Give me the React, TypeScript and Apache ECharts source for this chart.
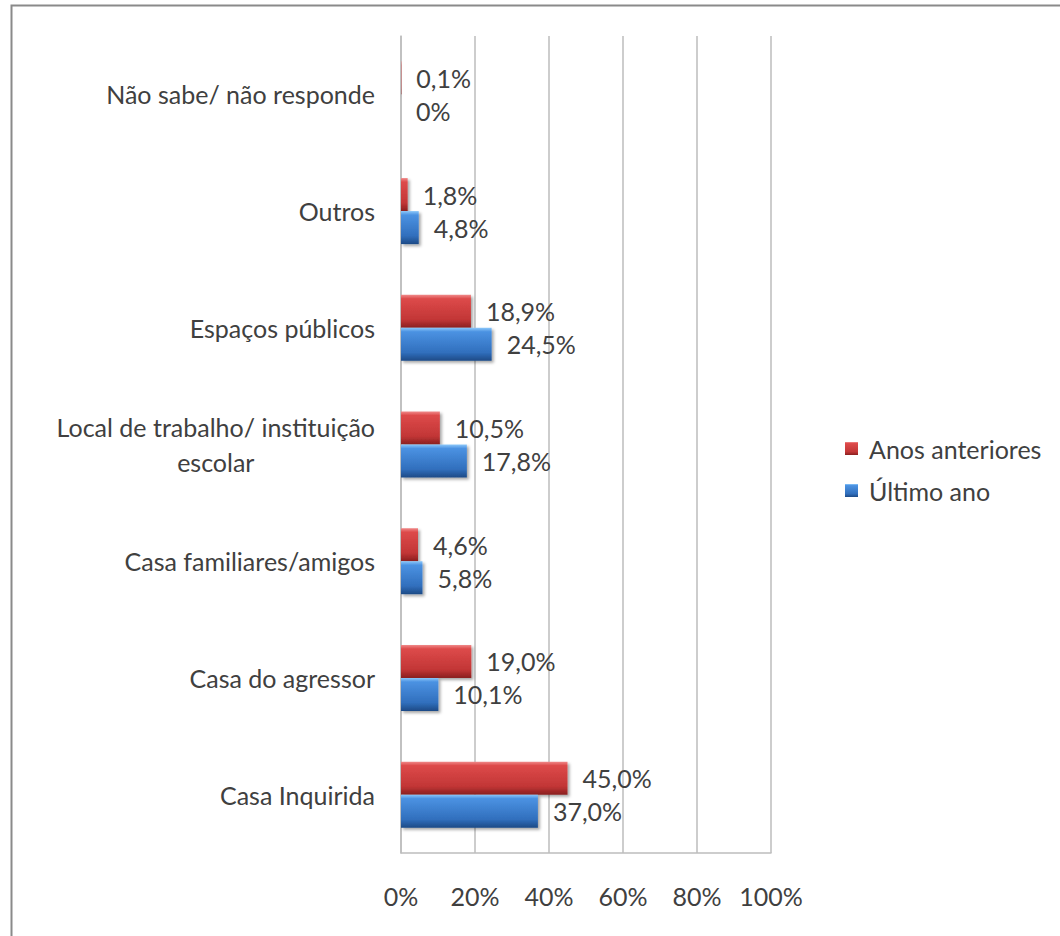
import React, { useEffect, useRef } from "react";
import * as echarts from "echarts";

const categories = [
  "Casa Inquirida",
  "Casa do agressor",
  "Casa familiares/amigos",
  "Local de trabalho/ instituição escolar",
  "Espaços públicos",
  "Outros",
  "Não sabe/ não responde",
];
const anosAnteriores = [45.0, 19.0, 4.6, 10.5, 18.9, 1.8, 0.1];
const ultimoAno = [37.0, 10.1, 5.8, 17.8, 24.5, 4.8, 0];
const seriesNames = ["Anos anteriores", "Último ano"];

const FONT = "Lato";
const FS = 25;
const TEXT = "#404040";

const fmt = (v: number) => (v === 0 ? "0%" : v.toFixed(1).replace(".", ",") + "%");

const redGrad = new echarts.graphic.LinearGradient(0, 0, 0, 1, [
  { offset: 0, color: "#f08a8a" },
  { offset: 0.12, color: "#dd4a4a" },
  { offset: 0.75, color: "#c23636" },
  { offset: 1, color: "#8a1f1f" },
]);
const blueGrad = new echarts.graphic.LinearGradient(0, 0, 0, 1, [
  { offset: 0, color: "#8cc8fa" },
  { offset: 0.12, color: "#4b92e2" },
  { offset: 0.75, color: "#316fbd" },
  { offset: 1, color: "#1d4a86" },
]);

export default function App() {
  const ref = useRef<HTMLDivElement>(null);
  useEffect(() => {
    if (!ref.current) return;
    const chart = echarts.init(ref.current, null, { renderer: "svg" });
    const labelCommon = {
      show: true,
      position: "right" as const,
      distance: 15,
      fontFamily: FONT,
      fontSize: FS,
      color: TEXT,
      formatter: (p: any) => fmt(p.value),
    };
    const shadow = {
      shadowColor: "rgba(0,0,0,0.35)",
      shadowBlur: 3,
      shadowOffsetX: 2,
      shadowOffsetY: 2,
    };
    chart.setOption({
      animation: false,
      backgroundColor: "#ffffff",
      textStyle: { fontFamily: FONT },
      graphic: [
        {
          type: "rect",
          shape: { x: 11.5, y: 5.5, width: 1200, height: 1100 },
          style: { fill: "none", stroke: "#8a8a8a", lineWidth: 2 },
          silent: true,
        },
      ],
      grid: { left: 401, right: 289, top: 36, bottom: 83 },
      legend: {
        data: seriesNames,
        orient: "vertical",
        left: 840,
        top: 431,
        itemWidth: 13,
        itemHeight: 13,
        itemGap: 17,
        icon: "rect",
        textStyle: { fontFamily: FONT, fontSize: FS, color: TEXT, padding: [0, 0, 0, 6] },
      },
      xAxis: {
        type: "value",
        min: 0,
        max: 100,
        interval: 20,
        axisLine: { show: true, lineStyle: { color: "#bdbdbd", width: 1.5 } },
        axisTick: { show: false },
        splitLine: { show: true, lineStyle: { color: "#bdbdbd", width: 1.5 } },
        axisLabel: {
          margin: 30,
          fontFamily: FONT,
          fontSize: FS,
          color: TEXT,
          formatter: (v: number) => v + "%",
        },
      },
      yAxis: {
        type: "category",
        data: categories,
        axisLine: { show: true, lineStyle: { color: "#bdbdbd", width: 1.5 } },
        axisTick: { show: false },
        splitLine: { show: false },
        axisLabel: {
          margin: 26,
          fontFamily: FONT,
          fontSize: FS,
          color: TEXT,
          formatter: (v: string) =>
            v.startsWith("Local de trabalho")
              ? "{c|Local de trabalho/ instituição}\n{c|escolar}"
              : v,
          rich: {
            c: {
              align: "center",
              fontFamily: FONT,
              fontSize: FS,
              color: TEXT,
              lineHeight: 35,
            },
          },
        },
      },
      series: [
        {
          name: "Anos anteriores",
          type: "bar",
          data: anosAnteriores,
          barWidth: 33,
          barGap: "0%",
          itemStyle: { color: redGrad, ...shadow },
          label: labelCommon,
        },
        {
          name: "Último ano",
          type: "bar",
          data: ultimoAno,
          barWidth: 33,
          barGap: "0%",
          itemStyle: { color: blueGrad, ...shadow },
          label: labelCommon,
        },
      ],
    });
    return () => chart.dispose();
  }, []);
  return (
    <div
      ref={ref}
      style={{ position: "fixed", left: 0, top: 0, width: 1060, height: 936, background: "#fff" }}
    />
  );
}
